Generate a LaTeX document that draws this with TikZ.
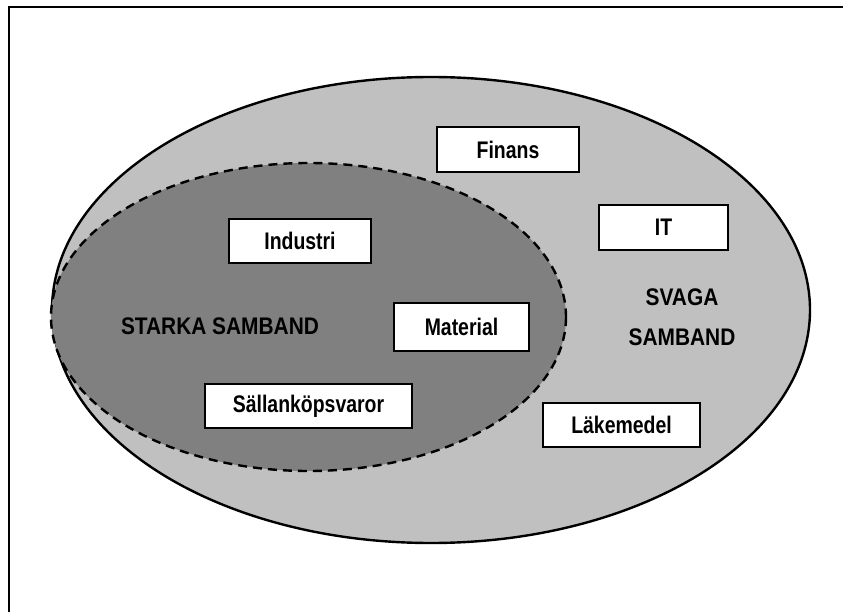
\documentclass[tikz,border=0pt]{standalone}
\usepackage{fontspec}
\setmainfont{Liberation Sans}
\newfontfamily\boxfont{Liberation Sans}[FakeStretch=0.81]
\newfontfamily\bigfont{Liberation Sans}[FakeStretch=0.87]
\definecolor{lightg}{HTML}{C0C0C0}
\definecolor{darkg}{HTML}{808080}
\begin{document}
\begin{tikzpicture}[x=1pt,y=-1pt,
  labelbox/.style={draw=black,line width=2pt,fill=white,inner sep=0pt,font=\boxfont\bfseries\fontsize{24}{27}\selectfont},
  bigtext/.style={font=\bigfont\bfseries\fontsize{24}{40}\selectfont,align=center,inner sep=0pt}]
\useasboundingbox (0,0) rectangle (843,612);
\clip (0,0) rectangle (843,612);
\fill[white] (0,0) rectangle (843,612);
\draw[line width=2.4pt] (9,640) -- (9,7) -- (870,7);
\draw[fill=lightg,line width=2.4pt] (431,310) ellipse [x radius=379, y radius=233];
\draw[fill=darkg,line width=2.4pt,dash pattern=on 9pt off 6pt] (308.5,317) ellipse [x radius=257.5, y radius=154];
\node[labelbox,minimum width=142pt,minimum height=45pt] (finans) at (508,149.5) {Finans};
\node[labelbox,minimum width=129pt,minimum height=45pt] (it) at (663.5,227.5) {IT};
\node[labelbox,minimum width=142pt,minimum height=44pt] (industri) at (300,241) {Industri};
\node[labelbox,minimum width=135pt,minimum height=48pt] (material) at (461.5,327) {Material};
\node[labelbox,minimum width=207pt,minimum height=44pt] (sallan) at (308.5,406) {Sällanköpsvaror};
\node[labelbox,minimum width=157pt,minimum height=44pt] (lake) at (621.5,425) {Läkemedel};
\node[bigtext] (starka) at (220,326) {STARKA SAMBAND};
\node[bigtext] (svaga) at (682,317) {SVAGA\\SAMBAND};
\end{tikzpicture}
\end{document}
